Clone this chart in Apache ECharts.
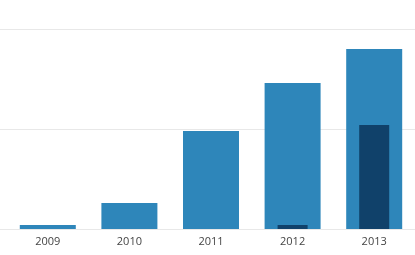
<!DOCTYPE html>
<html><head><meta charset="utf-8">
<script src="https://cdn.jsdelivr.net/npm/echarts@6/dist/echarts.min.js"></script>
<style>html,body{margin:0;padding:0;background:#fff}#c{width:415px;height:255px}</style>
</head><body><div id="c"></div>
<script>
const categories = ['2009','2010','2011','2012','2013'];
const totalValues = [4, 26, 98, 146, 180];
const partValues = [null, null, null, 4, 104];
const yTicks = [0, 100, 200];

const chart = echarts.init(document.getElementById('c'), null, {renderer:'canvas'});
const gridColor = '#e8e8e8';
chart.setOption({
  animation:false,
  grid:[
    {left:7, width:410, top:29, bottom:26, containLabel:false},
    {left:0, right:0, top:29, bottom:26, containLabel:false}
  ],
  xAxis:[
    {type:'category', gridIndex:0, data:categories,
     axisLine:{show:false}, axisTick:{show:false},
     axisLabel:{color:'#444', fontFamily:'Open Sans', fontSize:11, margin:7}},
    {type:'value', gridIndex:1, min:0, max:1, show:false},
    {type:'category', gridIndex:0, data:categories, show:false}
  ],
  yAxis:[
    {type:'value', gridIndex:0, min:yTicks[0], max:yTicks[yTicks.length-1], interval:yTicks[1]-yTicks[0],
     show:false, splitLine:{show:false}},
    {type:'value', gridIndex:1, min:yTicks[0], max:yTicks[yTicks.length-1], interval:yTicks[1]-yTicks[0],
     axisLabel:{show:false}, axisLine:{show:false}, axisTick:{show:false},
     splitLine:{show:true, lineStyle:{color:gridColor, width:1}}}
  ],
  series:[
    {type:'bar', xAxisIndex:0, yAxisIndex:0, data:totalValues, barWidth:56,
     itemStyle:{color:'#2e86ba'}},
    {type:'bar', xAxisIndex:2, yAxisIndex:0, data:partValues, barWidth:30,
     itemStyle:{color:'#10416a'}, z:3}
  ]
});
</script></body></html>
